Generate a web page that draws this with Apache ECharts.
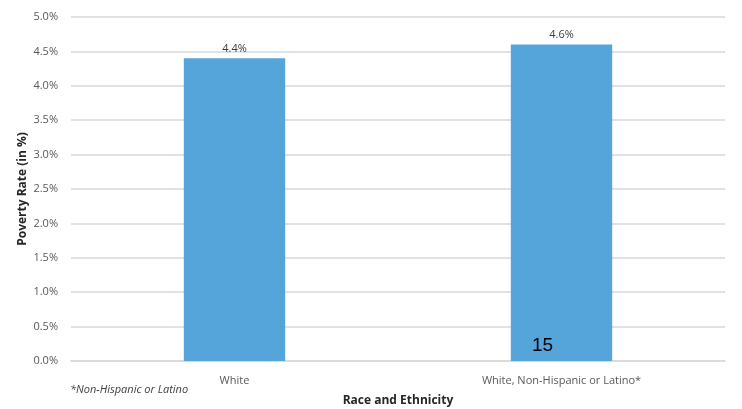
<!DOCTYPE html>
<html><head><meta charset="utf-8">
<script src="https://cdn.jsdelivr.net/npm/echarts@6/dist/echarts.min.js"></script>
<style>html,body{margin:0;padding:0;background:#fff}#c{width:742px;height:409px}</style>
</head><body><div id="c"></div>
<script>
const categories = ["White", "White, Non-Hispanic or Latino*"];
const povertyRate = [4.4, 4.6];
const yTicks = [0, 0.5, 1, 1.5, 2, 2.5, 3, 3.5, 4, 4.5, 5];

const chart = echarts.init(document.getElementById('c'), null, {renderer: 'canvas'});
const font = '"Open Sans", "DejaVu Sans", sans-serif';
chart.setOption({
  animation: false,
  textStyle: {fontFamily: font},
  grid: {left: 71, right: 17, top: 17, bottom: 48, outerBoundsMode: 'none'},
  xAxis: {
    type: 'category',
    data: categories,
    name: 'Race and Ethnicity',
    nameLocation: 'middle',
    nameGap: 34,
    nameMoveOverlap: false,
    nameTextStyle: {fontFamily: font, fontWeight: 'bold', fontSize: 12, color: '#262626'},
    axisLine: {lineStyle: {color: '#d9d9d9', width: 1.5}},
    axisTick: {show: false},
    axisLabel: {fontFamily: font, fontSize: 11, color: '#595959', margin: 14}
  },
  yAxis: {
    type: 'value',
    min: yTicks[0], max: yTicks[yTicks.length - 1], interval: 0.5,
    name: 'Poverty Rate (in %)',
    nameLocation: 'middle',
    nameGap: 42,
    nameMoveOverlap: false,
    nameTextStyle: {fontFamily: font, fontWeight: 'bold', fontSize: 12, color: '#262626'},
    axisLine: {show: false},
    axisTick: {show: false},
    splitLine: {lineStyle: {color: '#d9d9d9', width: 1.5}},
    axisLabel: {fontFamily: font, fontSize: 11, color: '#595959', margin: 13,
      formatter: v => v.toFixed(1) + '%'}
  },
  series: [{
    type: 'bar',
    data: povertyRate,
    barWidth: '31%',
    itemStyle: {color: '#56a5da'},
    label: {show: true, position: 'top', distance: 4, fontFamily: font, fontSize: 11, color: '#404040',
      formatter: p => p.value.toFixed(1) + '%'}
  }],
  graphic: [
    {type: 'text', left: 70, top: 384, z: 100, style: {text: '*Non-Hispanic or Latino', fontFamily: font, fontStyle: 'italic', fontSize: 11, fill: '#404040'}},
    {type: 'text', left: 532, top: 336, z: 100, style: {text: '15', fontFamily: '"Liberation Sans", Arial, sans-serif', fontSize: 19, fill: '#000'}}
  ]
});
</script></body></html>
